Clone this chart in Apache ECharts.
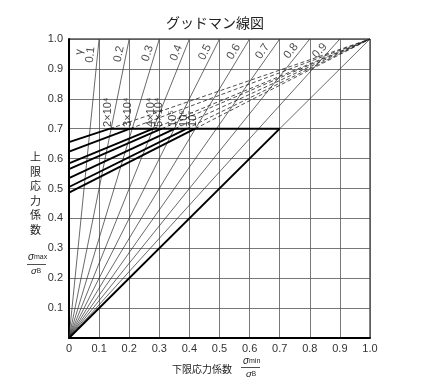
<!DOCTYPE html>
<html><head><meta charset="utf-8">
<script src="https://cdn.jsdelivr.net/npm/echarts/dist/echarts.min.js"></script>
<style>html,body{margin:0;padding:0;background:#fff}#c{width:430px;height:380px}</style>
</head><body><div id="c"></div>
<script>
// ---- data ----
const titleText = 'グッドマン線図';
const xTickValues = [0, 0.1, 0.2, 0.3, 0.4, 0.5, 0.6, 0.7, 0.8, 0.9, 1.0];
const ratios = [0.1, 0.2, 0.3, 0.4, 0.5, 0.6, 0.7, 0.8, 0.9];
const ratioLabels = ['0.1', '0.2', '0.3', '0.4', '0.5', '0.6', '0.7', '0.8', '0.9'];
const ratioFamilyLabel = 'γ';
const cycleLabels = ['2×10⁴', '3×10⁴', '4×10⁴', '5×10⁴', '10⁵', '10⁶', '10⁷'];
const intercepts = [0.655, 0.623, 0.584, 0.565, 0.535, 0.505, 0.486];
const yieldX = [0.136, 0.203, 0.280, 0.308, 0.352, 0.391, 0.419];
const yieldLimit = 0.7;
const xTitle = '下限応力係数';
const yTitle = '上限応力係数';

// ---- layout ----
const GRID = {left: 69, right: 60, top: 39, bottom: 42};
const W = 430 - GRID.left - GRID.right, H = 380 - GRID.top - GRID.bottom;
const thin = {color: '#2a2a2a', width: 0.7};
const thick = {color: '#000', width: 1.9};
const dashed = {color: '#222', width: 0.8, type: [4, 2.5]};
const FONT = '"Liberation Sans Narrow", "Liberation Sans", Arial, sans-serif';
const FONT2 = '"Liberation Sans", Arial, sans-serif';
const CJK = '"Noto Sans CJK JP", sans-serif';

function lineSeries(data, style, z) {
  return {type: 'line', data: data, symbol: 'none', silent: true, animation: false,
          lineStyle: style, z: z || 2};
}
const series = [];
ratios.forEach(r => series.push(lineSeries([[0, 0], [r, 1]], thin)));
series.push(lineSeries([[0, 0], [1, 1]], thin));
intercepts.forEach((a, i) => {
  series.push(lineSeries([[0, a], [yieldX[i], yieldLimit]], thick, 4));
  series.push(lineSeries([[yieldX[i], yieldLimit], [1, 1]], dashed, 3));
});
series.push(lineSeries([[yieldX[0], yieldLimit], [yieldLimit, yieldLimit]], thick, 4));
series.push(lineSeries([[0, 0], [yieldLimit, yieldLimit]], thick, 4));

const labelBase = {type: 'scatter', symbol: 'circle', symbolSize: 1, silent: true,
  itemStyle: {color: 'transparent'}, z: 5, animation: false};
series.push(Object.assign({}, labelBase, {
  data: ratios.map((r, i) => ({
    value: [r * 0.945, 0.945],
    label: {rotate: Math.atan2(H, W * r) * 180 / Math.PI, formatter: ratioLabels[i]}
  })),
  label: {show: true, position: 'inside', align: 'center', verticalAlign: 'bottom',
          fontSize: 11.5, fontFamily: FONT2, color: '#222', padding: [0, 0, 1, 0]}
}));
series.push(Object.assign({}, labelBase, {
  data: [{value: [0.052, 0.955], label: {rotate: Math.atan2(H, W * 0.1) * 180 / Math.PI, formatter: ratioFamilyLabel}}],
  label: {show: true, position: 'inside', align: 'center', verticalAlign: 'bottom',
          fontSize: 11, fontFamily: FONT2, color: '#222'}
}));
series.push(Object.assign({}, labelBase, {
  data: yieldX.map((x, i) => ({value: [x - 0.008, yieldLimit + 0.006], label: {formatter: cycleLabels[i]}})),
  label: {show: true, position: 'inside', rotate: 90, align: 'left', verticalAlign: 'middle',
          fontSize: 11, fontFamily: FONT2, color: '#111'}
}));

const axisCommon = {
  type: 'value', min: 0, max: 1, interval: 0.1,
  axisLine: {show: true, lineStyle: {color: '#000', width: 2}},
  axisTick: {show: false},
  splitLine: {show: true, lineStyle: {color: '#555', width: 0.8}},
  axisLabel: {fontSize: 11, fontFamily: FONT, color: '#333'}
};

const option = {
  animation: false,
  backgroundColor: '#fff',
  title: {text: titleText, left: 'center', top: 11,
          textStyle: {fontSize: 14, fontWeight: 'normal', fontFamily: CJK, color: '#222'}},
  grid: Object.assign({show: true, borderColor: '#000', borderWidth: 1, backgroundColor: 'transparent'}, GRID),
  xAxis: Object.assign({}, axisCommon, {
    axisLabel: Object.assign({}, axisCommon.axisLabel, {margin: 5,
      formatter: v => xTickValues.indexOf(+v.toFixed(1)) < 0 ? '' : (v === 0 ? '0' : v.toFixed(1))})
  }),
  yAxis: Object.assign({}, axisCommon, {
    axisLabel: Object.assign({}, axisCommon.axisLabel, {margin: 6,
      formatter: v => v === 0 ? '' : v.toFixed(1)})
  }),
  graphic: [
    {type: 'text', left: 172, top: 364, style: {text: xTitle, fontSize: 10, fontFamily: CJK, fill: '#222'}},
    {type: 'text', left: 243, top: 356, style: {text: '{s|σ}{m|min}', rich: {
      s: {fontSize: 10, fontStyle: 'italic', fontFamily: FONT2, fill: '#222'},
      m: {fontSize: 7, fontFamily: FONT2, fill: '#222'}}}},
    {type: 'line', shape: {x1: 241, y1: 367.5, x2: 260, y2: 367.5}, style: {stroke: '#222', lineWidth: 0.8}},
    {type: 'text', left: 246, top: 369, style: {text: '{s|σ}{m|B}', rich: {
      s: {fontSize: 9.5, fontStyle: 'italic', fontFamily: FONT2, fill: '#222'},
      m: {fontSize: 6.5, fontFamily: FONT2, fill: '#222'}}}},
    {type: 'text', left: 30, top: 150, style: {text: yTitle.split('').join('\n'), fontSize: 11,
      lineHeight: 14.5, fontFamily: CJK, fill: '#222'}},
    {type: 'text', left: 28, top: 252, style: {text: '{s|σ}{m|max}', rich: {
      s: {fontSize: 10, fontStyle: 'italic', fontFamily: FONT2, fill: '#222'},
      m: {fontSize: 7, fontFamily: FONT2, fill: '#222'}}}},
    {type: 'line', shape: {x1: 27, y1: 264.5, x2: 46, y2: 264.5}, style: {stroke: '#222', lineWidth: 0.8}},
    {type: 'text', left: 31, top: 266, style: {text: '{s|σ}{m|B}', rich: {
      s: {fontSize: 9.5, fontStyle: 'italic', fontFamily: FONT2, fill: '#222'},
      m: {fontSize: 6.5, fontFamily: FONT2, fill: '#222'}}}}
  ],
  series: series
};
const chart = echarts.init(document.getElementById('c'));
chart.setOption(option);
</script>
</body></html>
